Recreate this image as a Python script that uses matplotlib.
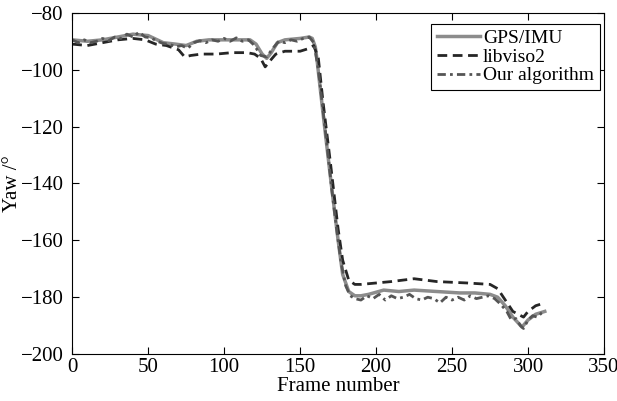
import numpy as np
import matplotlib
matplotlib.use('Agg')
import matplotlib.pyplot as plt

plt.rcParams['font.family'] = ['Liberation Serif', 'DejaVu Serif']
plt.rcParams['mathtext.fontset'] = 'stix'

# GPS/IMU reference
gps_frames = [0, 10, 20, 30, 40, 50, 60, 68, 75, 82, 90, 100, 110, 117, 121, 125,
              128, 131, 135, 140, 150, 156, 158, 160, 161, 165, 170, 175, 178, 182,
              186, 190, 195, 205, 215, 225, 240, 255, 265, 275, 280, 285, 290, 296,
              300, 305, 311]
gps_yaw = [-89.5, -90, -89.5, -88.5, -87.5, -88, -90.5, -91, -91.5, -90, -89.5, -89.5,
           -89.5, -89.5, -91, -94.5, -96, -94, -90.5, -89.5, -89, -88.5, -89, -92,
           -96, -115, -138, -160, -172, -178, -179.5, -179.5, -179, -177.5, -178,
           -177.5, -178, -178.5, -178.5, -179, -180, -183, -187, -190.5, -188, -186,
           -185]

# libviso2
lib_frames = [0, 10, 20, 30, 40, 48, 55, 62, 70, 74, 78, 85, 95, 105, 115, 120, 124,
              127, 130, 134, 140, 150, 156, 159, 162, 165, 170, 175, 178, 182, 186,
              190, 200, 210, 225, 240, 260, 275, 280, 285, 290, 297, 300, 305, 311]
lib_yaw = [-91, -91.5, -90.5, -89.5, -89, -89.5, -91, -91.5, -93, -95.5, -95, -94.5,
           -94.5, -94, -94, -94.5, -96, -99, -97, -94.5, -93.5, -93.5, -92.5, -91.5,
           -96, -111, -133, -156, -167, -174, -175.5, -175.5, -175, -174.5, -173.5,
           -174.5, -175, -175.5, -177, -181, -185, -187, -185, -183, -182]

# our algorithm
our_frames = [0, 4, 8, 12, 16, 20, 24, 28, 32, 36, 40, 44, 48, 52, 56, 60, 64, 68, 72,
              76, 80, 84, 88, 92, 96, 100, 104, 108, 112, 116, 120, 124, 128, 132,
              136, 140, 144, 148, 152, 156, 159, 162, 165, 168, 171, 174, 177, 180,
              183, 186, 190, 194, 198, 202, 206, 210, 214, 218, 222, 226, 230, 234,
              238, 242, 246, 250, 254, 258, 262, 266, 270, 274, 278, 282, 286, 289,
              292, 295, 297, 300, 303, 306, 309, 311]
our_yaw = [-89.5, -90.5, -89.5, -90.5, -90, -89, -89.8, -88.5, -89, -87.5, -88.5,
           -86.8, -88.5, -88.8, -90, -90.8, -91, -92, -91.5, -92.5, -90.5, -89.8,
           -90.5, -89.5, -90, -89, -90, -88.8, -90, -89.5, -91.5, -95, -95.5, -92.5,
           -90, -90.5, -89.5, -90, -89, -88.5, -90.5, -100, -114, -128, -143, -156,
           -168, -176, -179.5, -180.5, -181, -179.5, -180.5, -179, -181, -179.5,
           -180.5, -180, -179, -180.5, -181, -180, -180.5, -182, -180, -181, -180,
           -181, -179.5, -180.5, -180, -179.5, -180.5, -182.5, -185, -188, -187.5,
           -190, -191, -188, -186.5, -187, -185.5, -185]

fig = plt.figure(figsize=(6.17, 4.01), dpi=100)
ax = fig.add_axes([0.117, 0.117, 0.862, 0.851])

ax.plot(gps_frames, gps_yaw, color='#8c8c8c', lw=2.5, label='GPS/IMU')
ax.plot(lib_frames, lib_yaw, color='#262626', lw=2, linestyle=(0, (3.5, 2)), label='libviso2')
ax.plot(our_frames, our_yaw, color='#555555', lw=2, linestyle=(0, (3, 1.5, 1, 1.5)),
        label='Our algorithm')

ax.set_xlim(0, 350)
ax.set_ylim(-200, -80)
ax.set_xticks(np.arange(0, 351, 50))
ax.set_yticks(np.arange(-200, -79, 20))
ax.tick_params(direction='in', top=True, right=True, labelsize=15, length=5, width=0.8)
ax.tick_params(axis='y', pad=6)
ax.tick_params(axis='x', pad=3)
for s in ax.spines.values():
    s.set_linewidth(0.8)

ax.set_xlabel('Frame number', fontsize=15, labelpad=0)
ax.set_ylabel('Yaw /°', fontsize=15)
ax.yaxis.set_label_coords(-0.094, 0.5)

leg = ax.legend(loc='upper right', bbox_to_anchor=(0.992, 0.968), fontsize=14,
                fancybox=False, edgecolor='black', framealpha=1, handlelength=2.2,
                handletextpad=0.15, labelspacing=0.05, borderpad=0.3, borderaxespad=0)
leg.get_frame().set_linewidth(0.8)

plt.savefig('out.png', dpi=100)
